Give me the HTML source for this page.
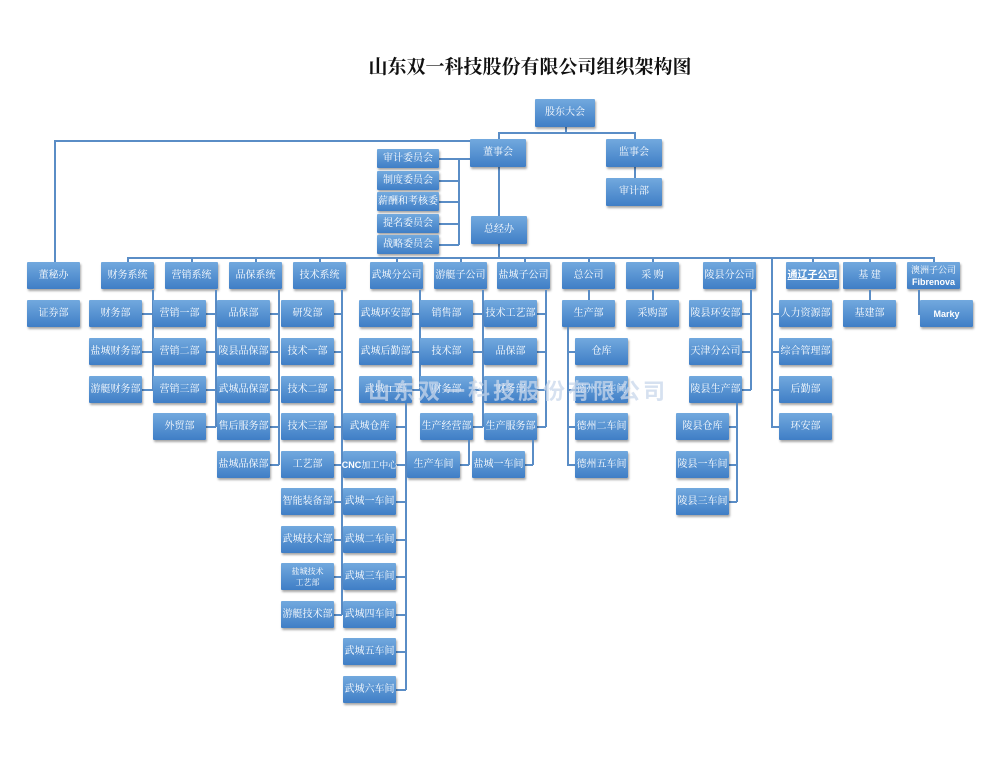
<!DOCTYPE html>
<html><head><meta charset="utf-8"><style>
body{margin:0;width:1004px;height:768px;background:#fff;position:relative;overflow:hidden;font-family:"Liberation Serif","Noto Serif CJK SC",serif}
.b{position:absolute;width:53px;height:27px;background:linear-gradient(#72a9de,#3f7ec6);color:#fff;font-size:10px;display:flex;align-items:center;justify-content:center;text-align:center;box-shadow:1px 2px 2px rgba(0,0,0,.35);border-radius:1px;line-height:12px;white-space:nowrap}
.h,.v{position:absolute;background:#5a8dc6}
.h{height:1.5px}.v{width:1.5px}
.t{position:absolute;left:0;width:1004px;top:52px;text-align:center;font-size:19px;font-weight:bold;color:#111;padding-left:56px;box-sizing:border-box}
.wm{position:absolute;left:368px;top:374px;font-size:22px;font-weight:bold;color:rgba(200,215,235,.75);letter-spacing:3px;font-family:"Liberation Sans","Noto Sans CJK SC",sans-serif}
</style></head><body>
<div class="t">山东双一科技股份有限公司组织架构图</div>

<!-- top lines -->
<div class="v" style="left:565px;top:127px;height:6px"></div>
<div class="h" style="left:498px;top:132px;width:137px"></div>
<div class="v" style="left:498px;top:132px;height:8px"></div>
<div class="v" style="left:634px;top:132px;height:8px"></div>
<div class="v" style="left:634px;top:167px;height:11px"></div>
<div class="h" style="left:54px;top:140px;width:417px"></div>
<div class="v" style="left:54px;top:140px;height:122px"></div>
<div class="v" style="left:498px;top:167px;height:49px"></div>
<div class="h" style="left:458px;top:158px;width:13px"></div>
<div class="v" style="left:458px;top:158px;height:87px"></div>
<div class="h" style="left:439px;top:158px;width:20px"></div>
<div class="h" style="left:439px;top:180px;width:20px"></div>
<div class="h" style="left:439px;top:201px;width:20px"></div>
<div class="h" style="left:439px;top:223px;width:20px"></div>
<div class="h" style="left:439px;top:244px;width:20px"></div>
<div class="v" style="left:498px;top:244px;height:14px"></div>
<div class="h" style="left:127px;top:257px;width:808px"></div>
<div class="v" style="left:127px;top:257px;height:5px"></div>
<div class="v" style="left:191px;top:257px;height:5px"></div>
<div class="v" style="left:255px;top:257px;height:5px"></div>
<div class="v" style="left:319px;top:257px;height:5px"></div>
<div class="v" style="left:396px;top:257px;height:5px"></div>
<div class="v" style="left:460px;top:257px;height:5px"></div>
<div class="v" style="left:524px;top:257px;height:5px"></div>
<div class="v" style="left:588px;top:257px;height:5px"></div>
<div class="v" style="left:652px;top:257px;height:5px"></div>
<div class="v" style="left:729px;top:257px;height:5px"></div>
<div class="v" style="left:812px;top:257px;height:5px"></div>
<div class="v" style="left:869px;top:257px;height:5px"></div>
<div class="v" style="left:933px;top:257px;height:5px"></div>

<div class="b" style="left:535px;top:99px;width:60px;height:28px">股东大会</div>
<div class="b" style="left:470px;top:139px;width:56px;height:28px">董事会</div>
<div class="b" style="left:606px;top:139px;width:56px;height:28px">监事会</div>
<div class="b" style="left:606px;top:178px;width:56px;height:28px">审计部</div>
<div class="b" style="left:377px;top:149px;width:62px;height:19px">审计委员会</div>
<div class="b" style="left:377px;top:171px;width:62px;height:19px">制度委员会</div>
<div class="b" style="left:377px;top:192px;width:62px;height:19px">薪酬和考核委</div>
<div class="b" style="left:377px;top:214px;width:62px;height:19px">提名委员会</div>
<div class="b" style="left:377px;top:235px;width:62px;height:19px">战略委员会</div>
<div class="b" style="left:471px;top:216px;width:56px;height:28px">总经办</div>

<!-- level 2 -->
<div class="b" style="left:27px;top:262px">董秘办</div>
<div class="b" style="left:101px;top:262px">财务系统</div>
<div class="b" style="left:165px;top:262px">营销系统</div>
<div class="b" style="left:229px;top:262px">品保系统</div>
<div class="b" style="left:293px;top:262px">技术系统</div>
<div class="b" style="left:370px;top:262px">武城分公司</div>
<div class="b" style="left:434px;top:262px">游艇子公司</div>
<div class="b" style="left:497px;top:262px">盐城子公司</div>
<div class="b" style="left:562px;top:262px">总公司</div>
<div class="b" style="left:626px;top:262px">采 购</div>
<div class="b" style="left:703px;top:262px">陵县分公司</div>
<div class="b" style="left:786px;top:262px;font-family:'Liberation Sans','Noto Sans CJK SC',sans-serif;font-weight:bold;text-decoration:underline">通辽子公司</div>
<div class="b" style="left:843px;top:262px">基 建</div>
<div class="b" style="left:907px;top:262px;flex-direction:column;font-size:9px"><span>澳洲子公司</span><span style="font-family:'Liberation Sans',sans-serif;font-weight:bold">Fibrenova</span></div>

<!-- 董秘办 -->
<div class="b" style="left:27px;top:300px">证券部</div>

<!-- 财务 -->
<div class="v" style="left:152px;top:290px;height:100px"></div>
<div class="h" style="left:141px;top:313px;width:12px"></div>
<div class="h" style="left:141px;top:351px;width:12px"></div>
<div class="h" style="left:141px;top:389px;width:12px"></div>
<div class="b" style="left:89px;top:300px">财务部</div>
<div class="b" style="left:89px;top:338px">盐城财务部</div>
<div class="b" style="left:89px;top:376px">游艇财务部</div>

<!-- 营销 -->
<div class="v" style="left:215px;top:290px;height:137px"></div>
<div class="h" style="left:205px;top:313px;width:11px"></div>
<div class="h" style="left:205px;top:351px;width:11px"></div>
<div class="h" style="left:205px;top:389px;width:11px"></div>
<div class="h" style="left:205px;top:426px;width:11px"></div>
<div class="b" style="left:153px;top:300px">营销一部</div>
<div class="b" style="left:153px;top:338px">营销二部</div>
<div class="b" style="left:153px;top:376px">营销三部</div>
<div class="b" style="left:153px;top:413px">外贸部</div>

<!-- 品保 -->
<div class="v" style="left:278px;top:290px;height:175px"></div>
<div class="h" style="left:269px;top:313px;width:10px"></div>
<div class="h" style="left:269px;top:351px;width:10px"></div>
<div class="h" style="left:269px;top:389px;width:10px"></div>
<div class="h" style="left:269px;top:426px;width:10px"></div>
<div class="h" style="left:269px;top:464px;width:10px"></div>
<div class="b" style="left:217px;top:300px">品保部</div>
<div class="b" style="left:217px;top:338px">陵县品保部</div>
<div class="b" style="left:217px;top:376px">武城品保部</div>
<div class="b" style="left:217px;top:413px">售后服务部</div>
<div class="b" style="left:217px;top:451px">盐城品保部</div>

<!-- 技术 -->
<div class="v" style="left:341px;top:290px;height:325px"></div>
<div class="h" style="left:333px;top:313px;width:9px"></div>
<div class="h" style="left:333px;top:351px;width:9px"></div>
<div class="h" style="left:333px;top:389px;width:9px"></div>
<div class="h" style="left:333px;top:426px;width:9px"></div>
<div class="h" style="left:333px;top:464px;width:9px"></div>
<div class="h" style="left:333px;top:501px;width:9px"></div>
<div class="h" style="left:333px;top:539px;width:9px"></div>
<div class="h" style="left:333px;top:576px;width:9px"></div>
<div class="h" style="left:333px;top:614px;width:9px"></div>
<div class="b" style="left:281px;top:300px">研发部</div>
<div class="b" style="left:281px;top:338px">技术一部</div>
<div class="b" style="left:281px;top:376px">技术二部</div>
<div class="b" style="left:281px;top:413px">技术三部</div>
<div class="b" style="left:281px;top:451px">工艺部</div>
<div class="b" style="left:281px;top:488px">智能装备部</div>
<div class="b" style="left:281px;top:526px">武城技术部</div>
<div class="b" style="left:281px;top:563px;flex-direction:column;font-size:8px;line-height:11px"><span>盐城技术</span><span>工艺部</span></div>
<div class="b" style="left:281px;top:601px">游艇技术部</div>

<!-- 武城 -->
<div class="v" style="left:419px;top:290px;height:100px"></div>
<div class="h" style="left:412px;top:313px;width:8px"></div>
<div class="h" style="left:412px;top:351px;width:8px"></div>
<div class="h" style="left:412px;top:389px;width:8px"></div>
<div class="b" style="left:359px;top:300px">武城环安部</div>
<div class="b" style="left:359px;top:338px">武城后勤部</div>
<div class="b" style="left:359px;top:376px">武城□□部</div>
<div class="v" style="left:405px;top:403px;height:287px"></div>
<div class="h" style="left:396px;top:426px;width:10px"></div>
<div class="h" style="left:396px;top:464px;width:10px"></div>
<div class="h" style="left:396px;top:501px;width:10px"></div>
<div class="h" style="left:396px;top:539px;width:10px"></div>
<div class="h" style="left:396px;top:576px;width:10px"></div>
<div class="h" style="left:396px;top:614px;width:10px"></div>
<div class="h" style="left:396px;top:651px;width:10px"></div>
<div class="h" style="left:396px;top:689px;width:10px"></div>
<div class="b" style="left:343px;top:413px">武城仓库</div>
<div class="b" style="left:343px;top:451px;font-size:9px"><b style="font-family:'Liberation Sans',sans-serif">CNC</b>加工中心</div>
<div class="b" style="left:343px;top:488px">武城一车间</div>
<div class="b" style="left:343px;top:526px">武城二车间</div>
<div class="b" style="left:343px;top:563px">武城三车间</div>
<div class="b" style="left:343px;top:601px">武城四车间</div>
<div class="b" style="left:343px;top:638px">武城五车间</div>
<div class="b" style="left:343px;top:676px">武城六车间</div>

<!-- 游艇 -->
<div class="v" style="left:482px;top:290px;height:137px"></div>
<div class="h" style="left:473px;top:313px;width:10px"></div>
<div class="h" style="left:473px;top:351px;width:10px"></div>
<div class="h" style="left:473px;top:389px;width:10px"></div>
<div class="h" style="left:473px;top:426px;width:10px"></div>
<div class="b" style="left:420px;top:300px">销售部</div>
<div class="b" style="left:420px;top:338px">技术部</div>
<div class="b" style="left:420px;top:376px">财务部</div>
<div class="b" style="left:420px;top:413px">生产经营部</div>
<div class="v" style="left:468px;top:440px;height:25px"></div>
<div class="h" style="left:460px;top:464px;width:9px"></div>
<div class="b" style="left:407px;top:451px">生产车间</div>

<!-- 盐城 -->
<div class="v" style="left:545px;top:290px;height:137px"></div>
<div class="h" style="left:537px;top:313px;width:9px"></div>
<div class="h" style="left:537px;top:351px;width:9px"></div>
<div class="h" style="left:537px;top:389px;width:9px"></div>
<div class="h" style="left:537px;top:426px;width:9px"></div>
<div class="b" style="left:484px;top:300px">技术工艺部</div>
<div class="b" style="left:484px;top:338px">品保部</div>
<div class="b" style="left:484px;top:376px">财务部</div>
<div class="b" style="left:484px;top:413px">生产服务部</div>
<div class="v" style="left:532px;top:440px;height:25px"></div>
<div class="h" style="left:525px;top:464px;width:8px"></div>
<div class="b" style="left:472px;top:451px">盐城一车间</div>

<!-- 总公司 -->
<div class="v" style="left:588px;top:290px;height:10px"></div>
<div class="b" style="left:562px;top:300px">生产部</div>
<div class="v" style="left:567px;top:327px;height:138px"></div>
<div class="h" style="left:567px;top:351px;width:8px"></div>
<div class="h" style="left:567px;top:389px;width:8px"></div>
<div class="h" style="left:567px;top:426px;width:8px"></div>
<div class="h" style="left:567px;top:464px;width:8px"></div>
<div class="b" style="left:575px;top:338px">仓库</div>
<div class="b" style="left:575px;top:376px">德州一车间</div>
<div class="b" style="left:575px;top:413px">德州二车间</div>
<div class="b" style="left:575px;top:451px">德州五车间</div>

<!-- 采购 -->
<div class="v" style="left:652px;top:290px;height:10px"></div>
<div class="b" style="left:626px;top:300px">采购部</div>

<!-- 陵县 -->
<div class="v" style="left:750px;top:290px;height:100px"></div>
<div class="h" style="left:741px;top:313px;width:10px"></div>
<div class="h" style="left:741px;top:351px;width:10px"></div>
<div class="h" style="left:741px;top:389px;width:10px"></div>
<div class="b" style="left:689px;top:300px">陵县环安部</div>
<div class="b" style="left:689px;top:338px">天津分公司</div>
<div class="b" style="left:689px;top:376px">陵县生产部</div>
<div class="v" style="left:736px;top:403px;height:99px"></div>
<div class="h" style="left:728px;top:426px;width:9px"></div>
<div class="h" style="left:728px;top:464px;width:9px"></div>
<div class="h" style="left:728px;top:501px;width:9px"></div>
<div class="b" style="left:676px;top:413px">陵县仓库</div>
<div class="b" style="left:676px;top:451px">陵县一车间</div>
<div class="b" style="left:676px;top:488px">陵县三车间</div>

<!-- 通辽 line -->
<div class="v" style="left:771px;top:257px;height:170px"></div>
<div class="h" style="left:771px;top:313px;width:8px"></div>
<div class="h" style="left:771px;top:351px;width:8px"></div>
<div class="h" style="left:771px;top:389px;width:8px"></div>
<div class="h" style="left:771px;top:426px;width:8px"></div>
<div class="b" style="left:779px;top:300px">人力资源部</div>
<div class="b" style="left:779px;top:338px">综合管理部</div>
<div class="b" style="left:779px;top:376px">后勤部</div>
<div class="b" style="left:779px;top:413px">环安部</div>

<!-- 基建 -->
<div class="v" style="left:869px;top:290px;height:10px"></div>
<div class="b" style="left:843px;top:300px">基建部</div>

<!-- 澳洲 -->
<div class="v" style="left:918px;top:290px;height:24px"></div>
<div class="h" style="left:918px;top:313px;width:3px"></div>
<div class="b" style="left:920px;top:300px;font-family:'Liberation Sans',sans-serif;font-weight:bold;font-size:9px">Marky</div>

<div class="wm">山东双一科技股份有限公司</div>
</body></html>
